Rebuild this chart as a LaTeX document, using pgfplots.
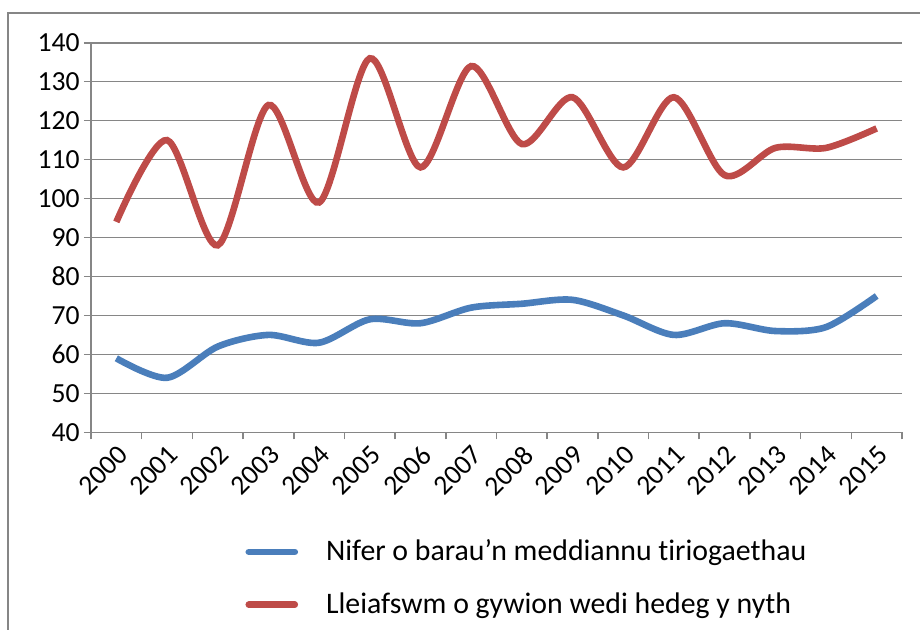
\documentclass[border=0pt]{standalone}
\usepackage{fontspec}
\setmainfont{Carlito}[Ligatures=NoCommon]
\usepackage{pgfplots}
\pgfplotsset{compat=1.18}
\definecolor{cblue}{HTML}{4A7EBB}
\definecolor{cred}{HTML}{BE4B48}
\definecolor{cgrid}{HTML}{868686}
\begin{document}
\begin{tikzpicture}
\useasboundingbox (0,0) rectangle (460pt,-314.5pt);
\draw[cgrid, line width=0.9pt] (4pt,-320pt) -- (4pt,-6.5pt) -- (466pt,-6.5pt);
\begin{axis}[
  at={(45.5pt,-216.15pt)}, anchor=south west,
  scale only axis, width=405.5pt, height=194.8pt,
  xmin=-0.5, xmax=15.5, ymin=40, ymax=140,
  axis x line=bottom, axis y line=left,
  axis line style={-, cgrid, line width=0.8pt},
  xtick={-0.5,0.5,1.5,2.5,3.5,4.5,5.5,6.5,7.5,8.5,9.5,10.5,11.5,12.5,13.5,14.5,15.5},
  x tick label as interval,
  xticklabels={2000,2001,2002,2003,2004,2005,2006,2007,2008,2009,2010,2011,2012,2013,2014,2015},
  ytick={40,50,...,140},
  ymajorgrids,
  grid style={cgrid, line width=0.8pt},
  tick align=outside, major tick length=3.5pt,
  tick style={cgrid, line width=0.8pt},
  /pgf/number format/assume math mode=true,
  ticklabel style={font=\fontsize{13.8}{16}\selectfont, text=black},
  xticklabel style={rotate=45, anchor=north east, inner sep=1.5pt},
  yticklabel style={inner sep=2pt},
  legend style={at={(0.19,-0.275)}, anchor=north west, draw=none, fill=none,
    font=\fontsize{14.9}{17}\selectfont, row sep=14.5pt, inner sep=0pt},
  legend cell align=left,
  legend image code/.code={\draw[#1, line cap=round] (0pt,0pt) -- (23pt,0pt);},
  /tikz/every even column/.append style={column sep=0pt},
  legend style={nodes={inner sep=0pt}},
]
\addplot[cblue, line width=3.3pt, smooth, tension=0.5] coordinates {
(0,59) (1,54) (2,62) (3,65) (4,63) (5,69) (6,68) (7,72) (8,73) (9,74) (10,70) (11,65) (12,68) (13,66) (14,67) (15,75)};
\addlegendentry{\hspace{14pt}Nifer o barau’n meddiannu tiriogaethau}
\addplot[cred, line width=3.3pt, smooth, tension=0.5] coordinates {
(0,94) (1,115) (2,88) (3,124) (4,99) (5,136) (6,108) (7,134) (8,114) (9,126) (10,108) (11,126) (12,106) (13,113) (14,113) (15,118)};
\addlegendentry{\hspace{14pt}Lleiafswm o gywion wedi hedeg y nyth}
\end{axis}
\end{tikzpicture}
\end{document}
